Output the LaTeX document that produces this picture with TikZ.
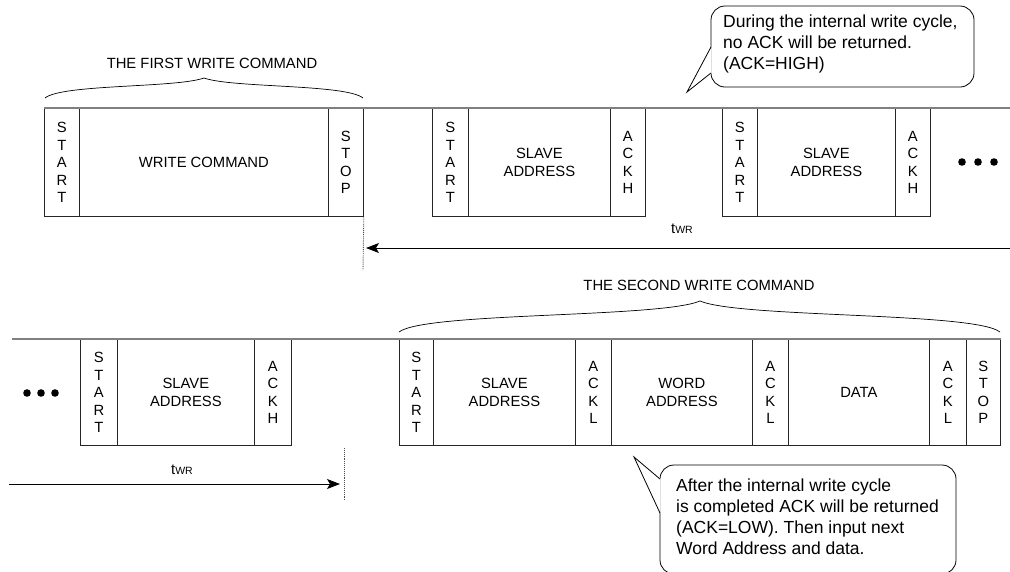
\documentclass[tikz,border=0pt]{standalone}
\usepackage{fontspec}
\setmainfont{Liberation Sans}
\usetikzlibrary{arrows.meta}
\newcommand{\boxfont}{\fontsize{14.8}{17.5}\selectfont}
\newcommand{\notefont}{\fontsize{17.5}{21}\selectfont}
\newcommand{\twr}{t{\fontsize{10.5}{10.5}\selectfont WR}}
\begin{document}
\begin{tikzpicture}[x=1pt,y=-1pt,
  cell/.style={draw=black!85, line width=0.8pt, anchor=north west, minimum height=108pt, inner sep=0pt, align=center, font=\boxfont},
  cellb/.style={cell, minimum height=106pt},
  bus/.style={draw=black!50, line width=1.3pt},
  timearrow/.style={draw=black, line width=0.9pt, -{Stealth[length=13pt,width=10pt,inset=3pt]}},
  dotline/.style={draw=black!70, line width=0.9pt, densely dotted},
  bracecurve/.style={draw=black, line width=0.7pt},
  callout/.style={draw=black, line width=0.8pt},
  lbl/.style={font=\boxfont, inner sep=0pt}
]
\useasboundingbox (0,0) rectangle (1010,571);
\clip (0,0) rectangle (1010,571);
\fill[white] (0,0) rectangle (1010,571);

% ---------- top row ----------
\node[cell, minimum width=35pt] (s1) at (44,108) {S\\T\\A\\R\\T};
\node[cell, minimum width=249pt] (wc) at (79,108) {WRITE COMMAND};
\node[cell, minimum width=35pt] (p1) at (328,108) {S\\T\\O\\P};
\node[cell, minimum width=36pt] (s2) at (432,108) {S\\T\\A\\R\\T};
\node[cell, minimum width=142pt] (sa2) at (468,108) {SLAVE\\ADDRESS};
\node[cell, minimum width=35pt] (a2) at (610,108) {A\\C\\K\\H};
\node[cell, minimum width=35pt] (s3) at (722,108) {S\\T\\A\\R\\T};
\node[cell, minimum width=138pt] (sa3) at (757,108) {SLAVE\\ADDRESS};
\node[cell, minimum width=35pt] (a3) at (895,108) {A\\C\\K\\H};

\coordinate (busR1) at (1010,108);
\draw[bus] (s1.north west) -- (busR1);

\foreach \x in {962,978,994} \fill (\x,162) circle[radius=3.8];

\coordinate (dot1e) at (363,270);
\draw[dotline] (p1.south east) -- (dot1e);
\coordinate (arr1R) at (1010,248);
\coordinate (arr1L) at (366,248);
\draw[timearrow] (arr1R) -- (arr1L);
\node[lbl] (tw1) at (682,229) {\twr};

% brace 1
\coordinate (b1L) at (45,98);
\coordinate (b1T) at (204,78);
\coordinate (b1R) at (363,98);
\draw[bracecurve] (b1L) .. controls (62,84) and (176,88) .. (b1T);
\draw[bracecurve] (b1T) .. controls (232,88) and (346,84) .. (b1R);
\node[lbl] (t1) at (212,63) {THE FIRST WRITE COMMAND};

% callout 1
\draw[callout, rounded corners=14pt] (711,6) rectangle (974,87);
\fill[white] (687,92) -- (711.7,46.5) -- (711.7,73.5) -- cycle;
\coordinate (c1tip) at (687,92);
\draw[callout] (711,47) -- (c1tip) -- (711,73);
\node[font=\notefont, align=left, anchor=west, inner sep=0pt] (n1) at (723,44)
  {During the internal write cycle,\\no ACK will be returned.\\(ACK=HIGH)};

% ---------- bottom row ----------
\node[cellb, minimum width=37pt] (s4) at (80,339) {S\\T\\A\\R\\T};
\node[cellb, minimum width=137pt] (sa4) at (117,339) {SLAVE\\ADDRESS};
\node[cellb, minimum width=37pt] (a4) at (254,339) {A\\C\\K\\H};
\node[cellb, minimum width=34pt] (s5) at (399,339) {S\\T\\A\\R\\T};
\node[cellb, minimum width=142pt] (sa5) at (433,339) {SLAVE\\ADDRESS};
\node[cellb, minimum width=36pt] (a5) at (575,339) {A\\C\\K\\L};
\node[cellb, minimum width=141pt] (wa) at (611,339) {WORD\\ADDRESS};
\node[cellb, minimum width=36pt] (a6) at (752,339) {A\\C\\K\\L};
\node[cellb, minimum width=141pt] (dt) at (788,339) {DATA};
\node[cellb, minimum width=37pt] (a7) at (929,339) {A\\C\\K\\L};
\node[cellb, minimum width=34pt] (p2) at (966,339) {S\\T\\O\\P};

\coordinate (busL2) at (12,339);
\draw[bus] (busL2) -- (p2.north east);

\foreach \x in {27,41,55} \fill (\x,393) circle[radius=3.8];

\coordinate (dot2s) at (344,448);
\coordinate (dot2e) at (344,500);
\draw[dotline] (dot2s) -- (dot2e);
\coordinate (arr2L) at (9,484);
\coordinate (arr2R) at (340,484);
\draw[timearrow] (arr2L) -- (arr2R);
\node[lbl] (tw2) at (182,470) {\twr};

% brace 2
\coordinate (b2L) at (399,332);
\coordinate (b2T) at (700,301);
\coordinate (b2R) at (1000,332);
\draw[bracecurve] (b2L) .. controls (425,312) and (660,318) .. (b2T);
\draw[bracecurve] (b2T) .. controls (740,318) and (975,312) .. (b2R);
\node[lbl] (t2) at (699,285) {THE SECOND WRITE COMMAND};

% callout 2
\draw[callout, rounded corners=14pt] (660,465) rectangle (956,574);
\fill[white] (634,457) -- (660.7,478.5) -- (660.7,513.5) -- cycle;
\coordinate (c2tip) at (634,457);
\draw[callout] (660,479) -- (c2tip) -- (660,513);
\node[font=\notefont, align=left, anchor=west, inner sep=0pt] (n2) at (676,517)
  {After the internal write cycle\\is completed ACK will be returned\\(ACK=LOW). Then input next\\Word Address and data.};
\end{tikzpicture}
\end{document}
